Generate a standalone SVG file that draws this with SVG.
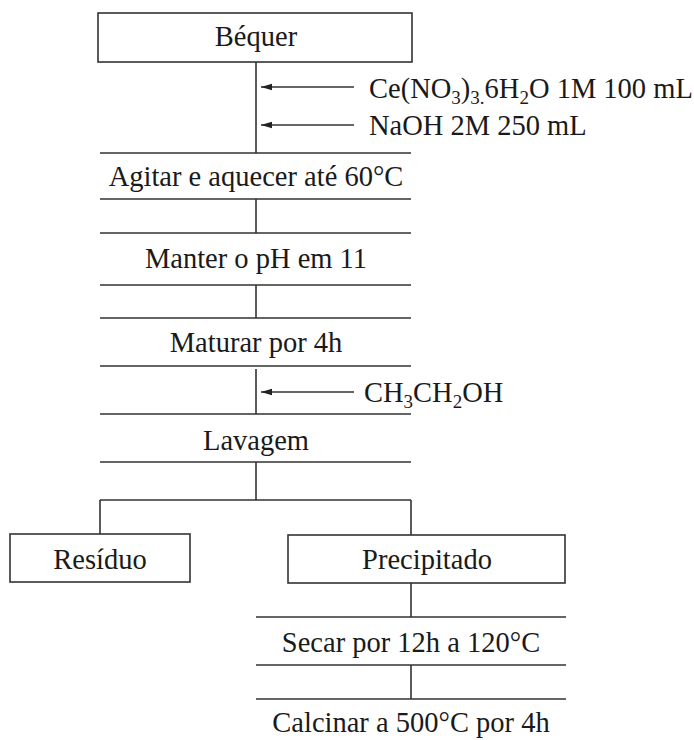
<svg xmlns="http://www.w3.org/2000/svg" width="694" height="740" viewBox="0 0 694 740">
<style>
text{font-family:"Liberation Serif","Times New Roman",serif;font-size:28.5px;fill:#1a1a1a}
.c{text-anchor:middle}
.ln{stroke:#333;stroke-width:1.6;fill:none}
.box{stroke:#333;stroke-width:1.6;fill:#fff}
</style>
<defs>
<marker id="ah" markerWidth="12" markerHeight="8" refX="11" refY="4" orient="auto" markerUnits="userSpaceOnUse">
<path d="M0,0.8 L11,4 L0,7.2 Z" fill="#222"/>
</marker>
</defs>
<rect width="694" height="740" fill="#fff"/>
<g id="connectors">
<path class="ln" d="M256,62 V153 M256,199 V233 M256,285 V318 M256,369 V414 M256,462 V500 M100,500 H411 M100,500 V534 M411,500 V535 M411,583 V617 M411,665 V699"/>
<path class="ln" d="M354,87 H261" marker-end="url(#ah)"/>
<path class="ln" d="M354,125 H261" marker-end="url(#ah)"/>
<path class="ln" d="M354,392 H261" marker-end="url(#ah)"/>
<path class="ln" d="M100,153 H411 M100,199 H411 M100,233 H411 M100,285 H411 M100,318 H411 M100,366 H411 M100,414 H411 M100,462 H411 M256,617 H566 M256,665 H566 M256,699 H566"/>
</g>
<g id="bequer"><rect class="box" x="98" y="13" width="314" height="49"/><text class="c" x="256" y="46">Béquer</text></g>
<g id="reagent1"><text x="369" y="98">Ce(NO<tspan font-size="19" dy="6">3</tspan><tspan dy="-6">)</tspan><tspan font-size="19" dy="6">3.</tspan><tspan dy="-6">6H</tspan><tspan font-size="19" dy="6">2</tspan><tspan dy="-6">O 1M 100 mL</tspan></text></g>
<g id="reagent2"><text x="369" y="135">NaOH 2M 250 mL</text></g>
<g id="agitar"><text class="c" x="256" y="186">Agitar e aquecer até 60°C</text></g>
<g id="manter"><text class="c" x="256" y="268">Manter o pH em 11</text></g>
<g id="maturar"><text class="c" x="256" y="352">Maturar por 4h</text></g>
<g id="etanol"><text x="364" y="402">CH<tspan font-size="19" dy="6">3</tspan><tspan dy="-6">CH</tspan><tspan font-size="19" dy="6">2</tspan><tspan dy="-6">OH</tspan></text></g>
<g id="lavagem"><text class="c" x="256" y="450">Lavagem</text></g>
<g id="residuo"><rect class="box" x="10" y="534" width="180" height="48"/><text class="c" x="100" y="569">Resíduo</text></g>
<g id="precipitado"><rect class="box" x="288" y="535" width="277" height="48"/><text class="c" x="427" y="569">Precipitado</text></g>
<g id="secar"><text class="c" x="411" y="652">Secar por 12h a 120°C</text></g>
<g id="calcinar"><text class="c" x="411" y="732">Calcinar a 500°C por 4h</text></g>
</svg>
